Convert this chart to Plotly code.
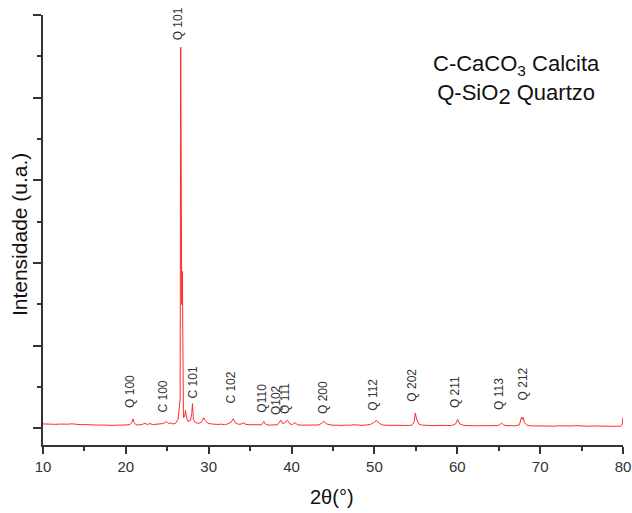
import plotly.graph_objects as go

two_theta = [
    10.0, 10.5, 11.0, 11.5, 12.0, 12.5, 13.0, 13.5, 14.0, 14.5,
    15.0, 15.5, 16.0, 16.5, 17.0, 17.5, 18.0, 18.5, 19.0, 19.5,
    20.0, 20.5, 20.7, 20.86, 21.0, 21.2, 21.5, 22.0, 22.3, 22.6,
    22.9, 23.2, 23.6, 24.0, 24.4, 24.7, 24.9, 25.1, 25.4, 25.7,
    26.0, 26.3, 26.55, 26.62, 26.68, 26.74, 26.82, 26.88, 26.95, 27.1,
    27.2, 27.3, 27.5, 27.8, 27.95, 28.04, 28.15, 28.4, 28.8, 29.1,
    29.4, 29.6, 29.9, 30.3, 30.7, 31.1, 31.5, 31.9, 32.3, 32.7,
    32.95, 33.2, 33.6, 34.0, 34.2, 34.5, 35.0, 35.5, 36.0, 36.4,
    36.65, 36.9, 37.3, 37.8, 38.3, 38.7, 38.9, 39.2, 39.5, 39.8,
    40.1, 40.4, 40.7, 41.2, 41.7, 42.2, 42.7, 43.2, 43.6, 43.9,
    44.2, 44.6, 45.0, 45.5, 46.0, 46.5, 47.0, 47.5, 48.0, 48.5,
    49.0, 49.5, 49.9, 50.27, 50.6, 51.0, 51.5, 52.0, 52.5, 53.0,
    53.5, 54.0, 54.5, 54.8, 54.93, 55.1, 55.4, 55.8, 56.3, 56.8,
    57.3, 57.8, 58.3, 58.8, 59.3, 59.8, 60.05, 60.3, 60.8, 61.3,
    61.8, 62.3, 62.8, 63.3, 63.8, 64.3, 64.8, 65.1, 65.36, 65.6,
    66.0, 66.5, 67.0, 67.5, 67.75, 67.85, 67.94, 68.1, 68.4, 68.8,
    69.3, 69.8, 70.3, 70.8, 71.3, 71.8, 72.3, 72.8, 73.3, 73.8,
    74.3, 74.8, 75.3, 75.8, 76.3, 76.8, 77.3, 77.8, 78.3, 78.8,
    79.3, 79.7, 79.9, 80.0,
]

intensity = [
    55, 52, 57, 50, 53, 48, 52, 56, 49, 46,
    48, 43, 45, 40, 42, 38, 41, 37, 40, 38,
    42, 48, 70, 115, 72, 45, 42, 50, 62, 48,
    60, 47, 50, 52, 58, 70, 85, 62, 66, 55,
    62, 110, 350, 4610, 3000, 1500, 1900, 500, 130, 150,
    218, 140, 85, 95, 180, 300, 110, 70, 62, 75,
    130, 95, 62, 55, 50, 48, 52, 46, 55, 75,
    117, 70, 50, 55, 68, 48, 45, 42, 40, 45,
    85, 48, 40, 42, 45, 100, 60, 70, 100, 55,
    48, 70, 45, 40, 42, 38, 45, 42, 60, 88,
    55, 42, 38, 40, 36, 42, 38, 45, 40, 37,
    42, 48, 70, 97, 60, 42, 38, 40, 35, 38,
    36, 40, 38, 80, 185, 110, 50, 40, 36, 38,
    34, 37, 33, 36, 35, 55, 109, 55, 36, 33,
    35, 32, 34, 31, 33, 35, 34, 45, 64, 42,
    33, 35, 32, 45, 137, 110, 135, 70, 40, 32,
    30, 33, 29, 31, 30, 28, 32, 30, 27, 30,
    34, 29, 31, 27, 30, 28, 26, 29, 27, 26,
    28, 27, 45, 137,
]

peak_labels = ["Q 100", "C 100", "Q 101", "C 101", "C 102", "Q110", "Q102",
               "Q 111", "Q 200", "Q 112", "Q 202", "Q 211", "Q 113", "Q 212"]
label_x = [20.5, 24.5, 26.4, 28.1, 32.7, 36.4, 38.2,
           39.2, 43.8, 49.9, 54.5, 59.8, 65.0, 67.9]
label_y = [218, 170, 4674, 339, 278, 170, 133,
           157, 145, 185, 302, 218, 197, 318]

x_ticks = [10, 20, 30, 40, 50, 60, 70, 80]

FONT = "Liberation Sans, Arial, sans-serif"
AXC = "#333333"

fig = go.Figure()
fig.add_trace(go.Scatter(x=two_theta, y=intensity, mode="lines",
                         line=dict(color="#ff2a2a", width=1), showlegend=False))

annotations = []
for t, xv, yv in zip(peak_labels, label_x, label_y):
    annotations.append(dict(x=xv, y=yv, xref="x", yref="y", text=t, textangle=-90,
                            showarrow=False, xanchor="center", yanchor="bottom",
                            font=dict(family=FONT, size=12, color=AXC)))

annotations.append(dict(
    x=0.817, y=0.922, xref="paper", yref="paper", xanchor="center", yanchor="top",
    text="C-CaCO<sub>3</sub> Calcita<br>Q-SiO<sub><span style='font-size:22px'>2</span></sub> Quartzo",
    showarrow=False, align="center",
    font=dict(family=FONT, size=22, color="#111111")))

annotations.append(dict(
    x=-0.040, y=0.49, xref="paper", yref="paper", xanchor="center", yanchor="middle",
    text="Intensidade (u.a.)", textangle=-90, showarrow=False,
    font=dict(family=FONT, size=21, color="#111111")))

annotations.append(dict(
    x=0.498, y=-0.122, xref="paper", yref="paper", xanchor="center", yanchor="middle",
    text="2θ(°)", showarrow=False,
    font=dict(family=FONT, size=20, color="#111111")))

fig.update_layout(
    width=632, height=513,
    margin=dict(l=43, r=9, t=15, b=68),
    paper_bgcolor="white", plot_bgcolor="white",
    annotations=annotations,
    xaxis=dict(range=[10, 80], tickvals=x_ticks, ticktext=[str(v) for v in x_ticks],
               showgrid=False, zeroline=False, showline=True, linecolor=AXC, linewidth=1.6,
               ticks="outside", ticklen=7, tickwidth=1.5, tickcolor=AXC, automargin=False,
               minor=dict(ticks="outside", ticklen=4, tickwidth=1.5, tickcolor=AXC, dtick=5),
               tickfont=dict(family=FONT, size=15, color=AXC)),
    yaxis=dict(range=[-200, 5000], dtick=1000, tick0=0, showticklabels=False,
               showgrid=False, zeroline=False, showline=True, linecolor=AXC, linewidth=1.6,
               ticks="outside", ticklen=8, tickwidth=1.5, tickcolor=AXC, automargin=False,
               minor=dict(ticks="outside", ticklen=4, tickwidth=1.5, tickcolor=AXC, dtick=500)),
)

fig.write_html("out.html", config={"displayModeBar": False},
               post_script="document.body.style.margin='0';document.body.style.overflow='hidden';")
